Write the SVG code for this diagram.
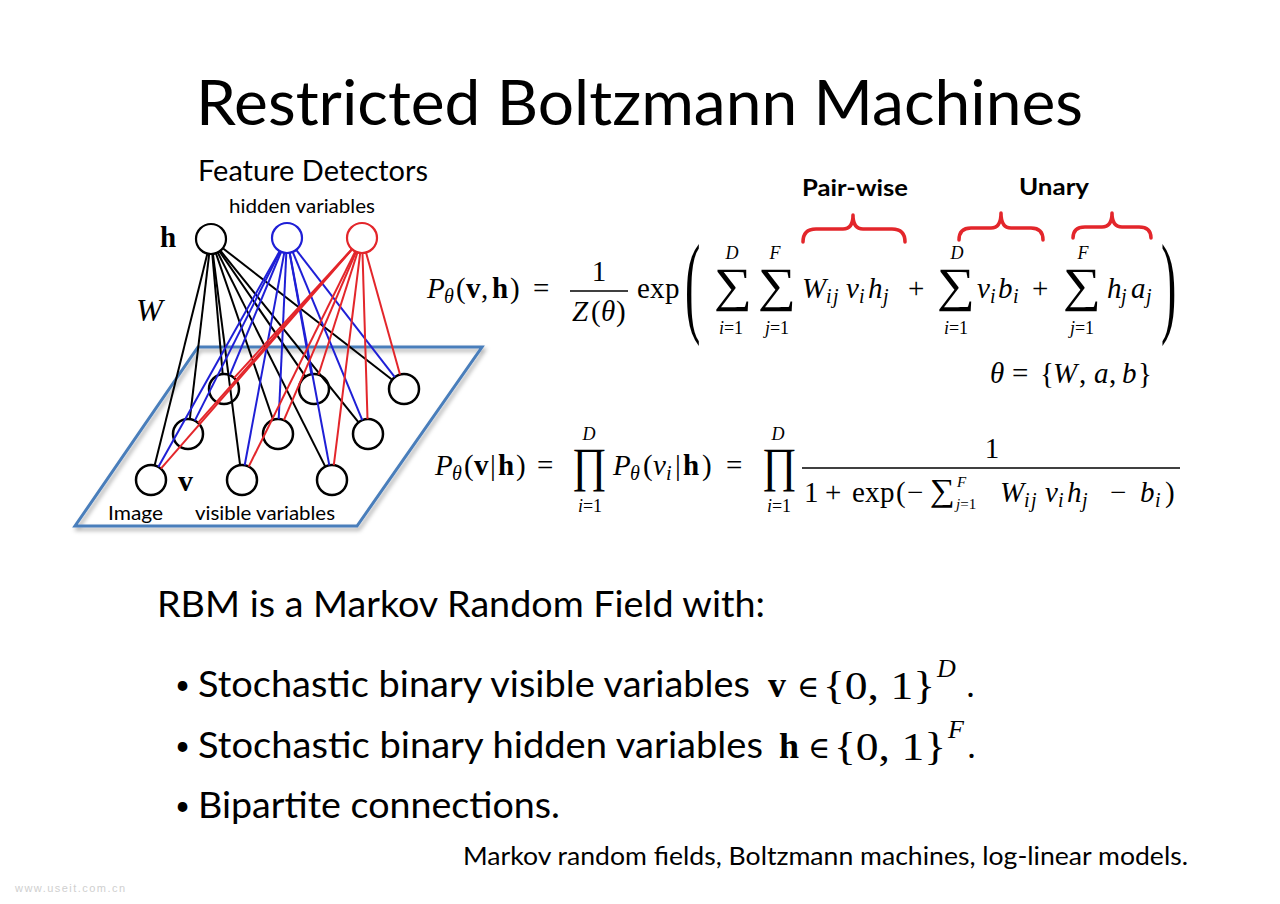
<svg xmlns="http://www.w3.org/2000/svg" width="1280" height="904" viewBox="0 0 1280 904">
<defs>
<style>
.sans{font-family:Lato,"Open Sans","Liberation Sans",sans-serif;fill:#000}
.m{font-family:"Liberation Serif","DejaVu Serif",serif;font-size:29px;fill:#000}
.i{font-style:italic}
.b{font-weight:bold}
.s{font-size:20px}
.big{font-family:"Liberation Serif","DejaVu Serif",serif;font-size:48px;fill:#000}
.node{fill:#fff;stroke:#000;stroke-width:2.5}
.k{stroke:#000;stroke-width:2;fill:none}
.bl{stroke:#1f1fd6;stroke-width:2;fill:none}
.rd{stroke:#e3262b;stroke-width:2;fill:none}
.brace{fill:none;stroke:#e3262b;stroke-width:3.5;stroke-linecap:round;stroke-linejoin:round}
.bar{stroke:#000;stroke-width:1.3}
</style>
<filter id="sh" x="-10%" y="-10%" width="130%" height="130%"><feDropShadow dx="2" dy="3" stdDeviation="2" flood-color="#000" flood-opacity="0.35"/></filter>
</defs>
<rect width="1280" height="904" fill="#fff"/>

<text id="title" class="sans" x="196" y="125" font-size="62" textLength="887" lengthAdjust="spacingAndGlyphs">Restricted Boltzmann Machines</text>

<g id="plane">
<polygon points="198,347 482,347 357,526 75,526" fill="none" stroke="#4a7ebb" stroke-width="3" filter="url(#sh)"/>
</g>

<g id="visible-nodes">
<circle id="v1" class="node" cx="224" cy="389" r="15"/>
<circle id="v2" class="node" cx="314" cy="389" r="15"/>
<circle id="v3" class="node" cx="404" cy="389" r="15"/>
<circle id="v4" class="node" cx="188" cy="434" r="15"/>
<circle id="v5" class="node" cx="278" cy="434" r="15"/>
<circle id="v6" class="node" cx="368" cy="434" r="15"/>
<circle id="v7" class="node" cx="151" cy="480" r="15"/>
<circle id="v8" class="node" cx="242" cy="480" r="15"/>
<circle id="v9" class="node" cx="332" cy="480" r="15"/>
</g>

<g id="connectors">
<line class="k" x1="212.3" y1="253.9" x2="222.7" y2="374.1"/>
<line class="k" x1="219.5" y1="251.4" x2="305.5" y2="376.6"/>
<line class="k" x1="222.8" y1="248.2" x2="392.2" y2="379.8"/>
<line class="k" x1="209.2" y1="253.9" x2="189.8" y2="419.1"/>
<line class="k" x1="215.9" y1="253.2" x2="273.1" y2="419.8"/>
<line class="k" x1="220.4" y1="250.7" x2="358.6" y2="422.3"/>
<line class="k" x1="207.4" y1="253.6" x2="154.6" y2="465.4"/>
<line class="k" x1="212.9" y1="253.9" x2="240.1" y2="465.1"/>
<line class="k" x1="217.7" y1="252.4" x2="325.3" y2="466.6"/>
<line class="bl" x1="281.2" y1="251.8" x2="229.8" y2="375.2"/>
<line class="bl" x1="289.6" y1="252.8" x2="311.4" y2="374.2"/>
<line class="bl" x1="296.2" y1="249.9" x2="394.8" y2="377.1"/>
<line class="bl" x1="280.2" y1="251.4" x2="194.8" y2="420.6"/>
<line class="bl" x1="286.3" y1="253.0" x2="278.7" y2="419.0"/>
<line class="bl" x1="292.7" y1="251.9" x2="362.3" y2="420.1"/>
<line class="bl" x1="279.7" y1="251.1" x2="158.3" y2="466.9"/>
<line class="bl" x1="284.3" y1="252.7" x2="244.7" y2="465.3"/>
<line class="bl" x1="289.7" y1="252.7" x2="329.3" y2="465.3"/>
<line class="rd" x1="351.9" y1="249.1" x2="234.1" y2="377.9"/>
<line class="rd" x1="357.5" y1="252.3" x2="318.5" y2="374.7"/>
<line class="rd" x1="366.0" y1="252.5" x2="400.0" y2="374.5"/>
<line class="rd" x1="352.0" y1="249.2" x2="198.0" y2="422.8"/>
<line class="rd" x1="356.1" y1="251.8" x2="283.9" y2="420.2"/>
<line class="rd" x1="362.5" y1="253.0" x2="367.5" y2="419.0"/>
<line class="rd" x1="352.1" y1="249.3" x2="160.9" y2="468.7"/>
<line class="rd" x1="355.3" y1="251.4" x2="248.7" y2="466.6"/>
<line class="rd" x1="360.2" y1="252.9" x2="333.8" y2="465.1"/>
</g>

<g id="hidden-nodes">
<circle id="h1" cx="211" cy="239" r="15" fill="#fff" stroke="#000" stroke-width="2.2"/>
<circle id="h2" cx="287" cy="238" r="15" fill="#fff" stroke="#1f1fd6" stroke-width="2.2"/>
<circle id="h3" cx="362" cy="238" r="15" fill="#fff" stroke="#e3262b" stroke-width="2.2"/>
</g>

<g id="network-labels">
<text class="sans" x="198" y="181" font-size="28" textLength="230" lengthAdjust="spacingAndGlyphs">Feature Detectors</text>
<text class="sans" x="229" y="213" font-size="20" textLength="146" lengthAdjust="spacingAndGlyphs">hidden variables</text>
<text class="m b" x="160" y="247" style="font-size:29px">h</text>
<text class="m i" x="136" y="321" style="font-size:32px">W</text>
<text class="m b" x="178" y="491" style="font-size:30px">v</text>
<text class="sans" x="108" y="520" font-size="20" textLength="55" lengthAdjust="spacingAndGlyphs">Image</text>
<text class="sans" x="195" y="520" font-size="20" textLength="140" lengthAdjust="spacingAndGlyphs">visible variables</text>
</g>

<g id="labels-top">
<text class="sans b" x="802" y="196" font-size="23" textLength="106" lengthAdjust="spacingAndGlyphs">Pair-wise</text>
<text class="sans b" x="1019" y="195" font-size="23" textLength="70" lengthAdjust="spacingAndGlyphs">Unary</text>
<path class="brace" d="M803,242 Q803,229 816,229 L843,229 Q853,229 853,215 Q853,229 863,229 L892,229 Q905,229 905,242"/>
<path class="brace" d="M959,240 Q959,228 971,228 L991,228 Q1001,228 1001,213 Q1001,228 1011,228 L1031,228 Q1043,228 1043,240"/>
<path class="brace" d="M1073,238 Q1073,227 1085,227 L1102,227 Q1112,227 1112,213 Q1112,227 1122,227 L1139,227 Q1151,227 1151,238"/>
</g>

<g id="equation-joint">
<text class="m"><tspan class="i" x="427" y="298">P</tspan><tspan class="i s" x="444" y="303">θ</tspan><tspan x="456" y="298">(</tspan><tspan class="b" x="466" y="298">v</tspan><tspan x="481" y="298">,</tspan><tspan class="b" x="492" y="298">h</tspan><tspan x="510" y="298">)</tspan></text>
<text class="m" x="533" y="298">=</text>
<text class="m" x="599" y="281" text-anchor="middle">1</text>
<line class="bar" x1="570" y1="291" x2="628" y2="291"/>
<text class="m"><tspan class="i" x="572" y="321">Z</tspan><tspan x="591" y="321">(</tspan><tspan class="i" x="601" y="321">θ</tspan><tspan x="616" y="321">)</tspan></text>
<text class="m"><tspan x="637" y="298">e</tspan><tspan x="650" y="298">x</tspan><tspan x="665" y="298">p</tspan></text>
<text class="m" transform="translate(685,322) scale(1,2.45)" style="font-size:46px">(</text>
<text class="big" x="714" y="301" textLength="38" lengthAdjust="spacingAndGlyphs">∑</text>
<text class="m i s" x="732" y="259" text-anchor="middle" style="font-size:18px">D</text>
<text class="m s" x="731" y="334" text-anchor="middle" style="font-size:18px"><tspan class="i">i</tspan>=1</text>
<text class="big" x="758" y="301" textLength="38" lengthAdjust="spacingAndGlyphs">∑</text>
<text class="m i s" x="775" y="259" text-anchor="middle" style="font-size:18px">F</text>
<text class="m s" x="777" y="334" text-anchor="middle" style="font-size:18px"><tspan class="i">j</tspan>=1</text>
<text class="m"><tspan class="i" x="802" y="298">W</tspan><tspan class="i s" x="826" y="303">i</tspan><tspan class="i s" x="833" y="303">j</tspan><tspan class="i" x="846" y="298">v</tspan><tspan class="i s" x="859" y="303">i</tspan><tspan class="i" x="868" y="298">h</tspan><tspan class="i s" x="883" y="303">j</tspan></text>
<text class="m" x="908" y="298">+</text>
<text class="big" x="937" y="301" textLength="38" lengthAdjust="spacingAndGlyphs">∑</text>
<text class="m i s" x="957" y="259" text-anchor="middle" style="font-size:18px">D</text>
<text class="m s" x="956" y="334" text-anchor="middle" style="font-size:18px"><tspan class="i">i</tspan>=1</text>
<text class="m"><tspan class="i" x="977" y="298">v</tspan><tspan class="i s" x="990" y="303">i</tspan><tspan class="i" x="998" y="298">b</tspan><tspan class="i s" x="1013" y="303">i</tspan></text>
<text class="m" x="1032" y="298">+</text>
<text class="big" x="1063" y="301" textLength="38" lengthAdjust="spacingAndGlyphs">∑</text>
<text class="m i s" x="1083" y="259" text-anchor="middle" style="font-size:18px">F</text>
<text class="m s" x="1082" y="334" text-anchor="middle" style="font-size:18px"><tspan class="i">j</tspan>=1</text>
<text class="m"><tspan class="i" x="1107" y="298">h</tspan><tspan class="i s" x="1121" y="303">j</tspan><tspan class="i" x="1131" y="298">a</tspan><tspan class="i s" x="1146" y="303">j</tspan></text>
<text class="m" transform="translate(1161,322) scale(1,2.45)" style="font-size:46px">)</text>
<text class="m"><tspan class="i" x="990" y="383">θ</tspan><tspan x="1012" y="383">=</tspan><tspan x="1040" y="383">{</tspan><tspan class="i" x="1053" y="383">W</tspan><tspan x="1079" y="383">,</tspan><tspan class="i" x="1094" y="383">a</tspan><tspan x="1109" y="383">,</tspan><tspan class="i" x="1122" y="383">b</tspan><tspan x="1138" y="383">}</tspan></text>
</g>

<g id="equation-conditional">
<text class="m"><tspan class="i" x="435" y="475">P</tspan><tspan class="i s" x="452" y="480">θ</tspan><tspan x="464" y="475">(</tspan><tspan class="b" x="474" y="475">v</tspan><tspan x="490" y="475">|</tspan><tspan class="b" x="498" y="475">h</tspan><tspan x="516" y="475">)</tspan></text>
<text class="m" x="537" y="475">=</text>
<text class="big" x="572" y="481" textLength="35" lengthAdjust="spacingAndGlyphs">∏</text>
<text class="m i s" x="589" y="440" text-anchor="middle" style="font-size:18px">D</text>
<text class="m s" x="590" y="512" text-anchor="middle" style="font-size:18px"><tspan class="i">i</tspan>=1</text>
<text class="m"><tspan class="i" x="613" y="475">P</tspan><tspan class="i s" x="630" y="480">θ</tspan><tspan x="643" y="475">(</tspan><tspan class="i" x="653" y="475">v</tspan><tspan class="i s" x="666" y="480">i</tspan><tspan x="675" y="475">|</tspan><tspan class="b" x="683" y="475">h</tspan><tspan x="702" y="475">)</tspan></text>
<text class="m" x="726" y="475">=</text>
<text class="big" x="762" y="481" textLength="35" lengthAdjust="spacingAndGlyphs">∏</text>
<text class="m i s" x="778" y="440" text-anchor="middle" style="font-size:18px">D</text>
<text class="m s" x="779" y="512" text-anchor="middle" style="font-size:18px"><tspan class="i">i</tspan>=1</text>
<text class="m" x="992" y="458" text-anchor="middle">1</text>
<line class="bar" x1="802" y1="468" x2="1180" y2="468"/>
<text class="m"><tspan x="804" y="502">1</tspan><tspan x="825" y="502">+</tspan><tspan x="852" y="502">e</tspan><tspan x="865" y="502">x</tspan><tspan x="880" y="502">p</tspan><tspan x="896" y="502">(</tspan><tspan x="907" y="502">−</tspan></text>
<text class="m" x="930" y="501" style="font-size:32px" textLength="25" lengthAdjust="spacingAndGlyphs">∑</text>
<text class="m i" x="957" y="487" style="font-size:15px">F</text>
<text class="m" x="956" y="509" style="font-size:15px"><tspan class="i">j</tspan>=1</text>
<text class="m"><tspan class="i" x="1000" y="502">W</tspan><tspan class="i s" x="1024" y="507">i</tspan><tspan class="i s" x="1031" y="507">j</tspan><tspan class="i" x="1045" y="502">v</tspan><tspan class="i s" x="1058" y="507">i</tspan><tspan class="i" x="1067" y="502">h</tspan><tspan class="i s" x="1082" y="507">j</tspan><tspan x="1110" y="502">−</tspan><tspan class="i" x="1140" y="502">b</tspan><tspan class="i s" x="1155" y="507">i</tspan><tspan x="1165" y="502">)</tspan></text>
</g>

<g id="body">
<text class="sans" x="157" y="617" font-size="36" textLength="608" lengthAdjust="spacingAndGlyphs">RBM is a Markov Random Field with:</text>
<text class="sans" x="175" y="694" font-size="26">•</text>
<text class="sans" x="198" y="697" font-size="36" textLength="552" lengthAdjust="spacingAndGlyphs">Stochastic binary visible variables</text>
<text class="m b" x="768" y="697" style="font-size:36px">v</text>
<text class="m" x="797" y="697" style="font-size:30px">∈</text>
<text class="m" x="823" y="699" style="font-size:40px" textLength="112" lengthAdjust="spacingAndGlyphs">{0, 1}</text>
<text class="m i" x="937" y="677" style="font-size:26px">D</text>
<text class="m" x="966" y="697" style="font-size:36px">.</text>
<text class="sans" x="175" y="755" font-size="26">•</text>
<text class="sans" x="198" y="758" font-size="36" textLength="565" lengthAdjust="spacingAndGlyphs">Stochastic binary hidden variables</text>
<text class="m b" x="779" y="758" style="font-size:36px">h</text>
<text class="m" x="808" y="758" style="font-size:30px">∈</text>
<text class="m" x="834" y="760" style="font-size:40px" textLength="112" lengthAdjust="spacingAndGlyphs">{0, 1}</text>
<text class="m i" x="948" y="738" style="font-size:26px">F</text>
<text class="m" x="967" y="758" style="font-size:36px">.</text>
<text class="sans" x="175" y="815" font-size="26">•</text>
<text class="sans" x="198" y="818" font-size="36" textLength="362" lengthAdjust="spacingAndGlyphs">Bipartite connections.</text>
<text class="sans" x="463" y="865" font-size="25" textLength="725" lengthAdjust="spacingAndGlyphs">Markov random fields, Boltzmann machines, log-linear models.</text>
</g>

<text id="watermark" x="15" y="892" font-family="'Liberation Sans',sans-serif" font-size="11" fill="#cfcfcf" textLength="110">www.useit.com.cn</text>
</svg>
